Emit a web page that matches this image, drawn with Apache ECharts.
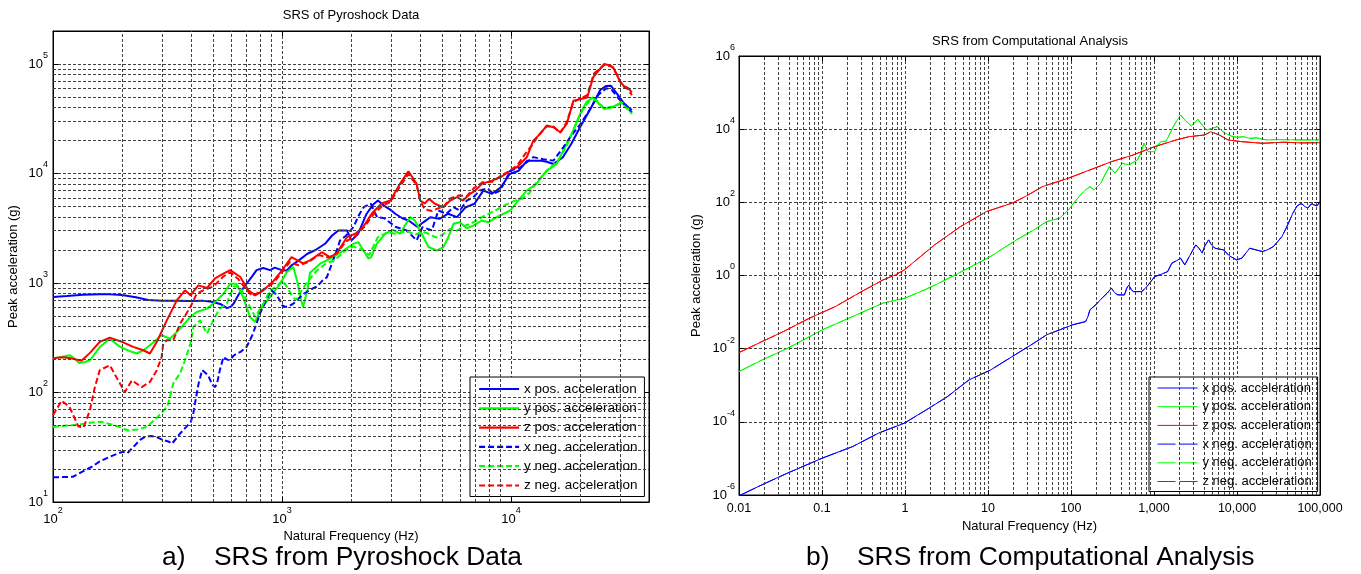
<!DOCTYPE html>
<html>
<head>
<meta charset="utf-8">
<script src="https://cdn.jsdelivr.net/npm/echarts@6/dist/echarts.min.js"></script>
<style>
  html, body { margin: 0; padding: 0; background: #fff; }
  #chart { width: 1361px; height: 574px; }
</style>
</head>
<body>
<div id="chart"></div>
<script>
// ---------- Panel a: SRS of pyroshock data, [frequency Hz, peak acceleration g] ----------
const pyroXPos = [[100,745],[115,760],[135,780],[160,790],[177,787],[200,775],[230,740],[260,700],[300,690],[350,690],[400,685],[450,690],[500,670],[540,640],[575,590],[600,610],[615,650],[650,800],[700,984],[740,1150],[774,1310],[829,1370],[886,1310],[930,1380],[997,1310],[1050,1300],[1100,1450],[1180,1600],[1290,1850],[1400,2000],[1540,2280],[1650,2700],[1760,3020],[1920,3020],[2010,2450],[2150,2820],[2340,4290],[2500,5200],[2620,5660],[2750,5200],[2850,4920],[3000,4600],[3120,4290],[3350,3900],[3570,3720],[3900,3240],[4150,3600],[4450,3990],[4870,3850],[5310,4290],[5800,3990],[6340,4920],[6920,5290],[7560,6980],[8260,6520],[9040,7500],[9860,9900],[10800,10600],[11750,13100],[13400,13100],[14300,12800],[15300,12200],[16800,14000],[18300,18600],[20000,26400],[22400,40200],[24500,57800],[26000,63000],[27300,63200],[29800,49500],[31000,44000],[32500,40200],[33700,38000]];
const pyroYPos = [[100,204],[110,212],[118,219],[124,205],[130,186],[138,190],[145,197],[160,260],[177,310],[196,261],[215,240],[232,227],[248,243],[265,270],[298,333],[324,310],[359,383],[398,489],[424,543],[470,583],[501,648],[555,798],[593,984],[632,984],[676,743],[725,489],[763,441],[817,603],[886,743],[980,984],[1050,1260],[1120,1400],[1170,1000],[1210,700],[1236,603],[1290,857],[1325,1240],[1466,1500],[1675,1720],[1853,1980],[2050,2280],[2150,2360],[2270,1980],[2380,1670],[2450,1720],[2590,2280],[2820,2820],[3060,3050],[3270,2820],[3620,3990],[3800,3720],[4070,2820],[4360,2130],[4740,1980],[5060,2130],[5320,2620],[5600,3470],[5980,3590],[6400,3160],[6840,3340],[7450,3720],[7960,3590],[8660,3990],[9910,4590],[10900,5860],[11700,6980],[12900,8030],[14300,10600],[15800,12200],[16900,16200],[18400,23000],[20000,34900],[21300,44800],[22800,49500],[24000,44000],[25500,38800],[27500,40000],[30400,44800],[32000,40000],[33700,36100]];
const pyroZPos = [[100,205],[110,210],[120,205],[133,195],[145,230],[160,290],[177,317],[200,290],[224,261],[248,243],[265,227],[284,290],[314,456],[347,694],[377,857],[398,771],[431,951],[470,900],[510,1100],[555,1220],[593,1310],[656,1140],[713,857],[763,771],[829,857],[916,1040],[998,1300],[1100,1720],[1235,1510],[1325,1610],[1490,1910],[1620,1720],[1730,1860],[1920,2620],[2090,2820],[2260,3240],[2460,4290],[2720,5320],[2970,5660],[3270,8030],[3560,10470],[3870,8030],[4010,5660],[4200,5320],[4380,5860],[4650,5290],[5050,4920],[5420,5660],[5800,6070],[6170,5660],[6620,6520],[6970,6980],[7450,8030],[8240,8610],[8960,9230],[9700,10260],[10600,11400],[11700,14060],[12500,19950],[13400,23000],[14300,27400],[15300,26400],[16400,23800],[17500,28300],[18700,46200],[21500,49500],[22800,75300],[25500,100000],[27000,97000],[27900,93300],[29800,70300],[31000,63000],[32500,60000],[33700,55000]];
const pyroXNeg = [[100,16.8],[110,16.9],[122,17],[135,19],[148,21],[160,23.5],[177,25.9],[190,27.5],[202,28.8],[211,27.8],[225,32],[240,37],[252,39.4],[268,40],[282,39.4],[300,37],[321,35.5],[330,34],[345,38],[359,42.3],[380,48],[400,54],[410,65],[419,85],[432,120],[448,160],[465,150],[479,139],[495,118],[509,112],[520,120],[535,160],[555,211],[575,200],[593,197],[612,215],[632,227],[660,235],[700,261],[740,330],[774,426],[805,540],[840,648],[870,760],[900,857],[940,790],[981,690],[1000,629],[1035,603],[1080,620],[1120,648],[1180,720],[1250,800],[1330,870],[1420,927],[1500,1050],[1570,1130],[1670,1610],[1750,2100],[1790,2440],[1900,2700],[2050,3240],[2170,4200],[2270,4920],[2440,5290],[2600,3990],[2800,3900],[3140,3240],[3500,3020],[3870,2450],[4100,3240],[4510,3020],[4810,4590],[5220,4290],[5600,4920],[5980,4590],[6400,5660],[6840,6070],[7300,7000],[7900,7300],[8380,6520],[8960,6980],[9910,10600],[11000,11400],[12500,14100],[13800,13500],[15300,13100],[16900,17300],[18100,21400],[20000,28000],[22000,38000],[24000,52000],[26000,60000],[27500,58000],[29800,47000],[31500,42000],[33700,36000]];
const pyroYNeg = [[100,48.5],[115,50],[130,51],[145,53],[162,54],[180,51],[194,48.5],[212,45],[235,46],[257,48.5],[287,60],[315,74],[324,91],[335,121],[359,150],[377,197],[398,280],[410,396],[438,456],[470,345],[501,456],[534,583],[574,648],[614,927],[656,927],[700,694],[763,489],[829,648],[886,857],[950,930],[1000,1050],[1060,900],[1110,750],[1150,700],[1200,820],[1280,1000],[1350,1150],[1420,1300],[1550,1500],[1700,1620],[1900,2000],[2050,2150],[2250,2000],[2400,1800],[2620,2620],[2900,2900],[3200,2800],[3500,3000],[3800,2750],[4100,2950],[4400,2800],[4700,2600],[5000,2750],[5400,3100],[5800,3000],[6200,3300],[6700,3500],[7300,3900],[8000,4300],[8700,4700],[9500,5200],[10300,5600],[11200,5900],[12000,6600],[13000,8500],[14500,10800],[16000,13000],[17500,18000],[19000,27000],[20500,38000],[22000,46000],[23500,47000],[25500,39500],[28000,41000],[30500,43500],[33700,35000]];
const pyroZNeg = [[100,62],[109,84],[118,74],[129,49],[136,48],[145,69],[152,110],[160,160],[177,177],[196,121],[206,101],[221,129],[244,112],[265,125],[284,160],[298,211],[303,280],[314,300],[335,300],[359,426],[398,603],[424,798],[453,857],[501,927],[555,1150],[593,1250],[640,1100],[690,900],[740,760],[790,820],[850,900],[916,1000],[998,1250],[1080,1550],[1180,1450],[1300,1550],[1450,1800],[1600,1700],[1750,1900],[1900,2400],[2100,2700],[2300,3300],[2500,4200],[2750,5100],[2970,5500],[3270,7600],[3560,9900],[3870,7800],[4010,5600],[4200,4700],[4520,4550],[4800,4800],[5100,5000],[5400,5900],[5900,6300],[6400,6200],[6900,7400],[7500,8300],[8300,8400],[9000,9500],[9800,10500],[10600,11800],[11500,15000],[12300,18000],[13200,22500],[14300,27000],[15300,26800],[16400,23500],[17500,29500],[18700,45000],[21500,52000],[23000,82000],[25500,98000],[27500,95000],[29000,80000],[30500,63000],[32000,60000],[33700,52000]];

// ---------- Panel b: SRS from computational analysis ----------
const compXPos = [[0.01,9.5e-7],[0.0189,1.9e-6],[0.0387,4e-6],[0.101,1.02e-5],[0.233,2.1e-5],[0.479,4.9e-5],[0.98,9.2e-5],[1.79,2.1e-4],[3.25,4.9e-4],[5.9,1.4e-3],[10.7,2.6e-3],[19.6,6.1e-3],[35.6,0.0141],[51,0.024],[73,0.0327],[104,0.0448],[150,0.055],[160,0.075],[169,0.115],[200,0.16],[240,0.25],[273,0.328],[307,0.45],[335,0.34],[367,0.295],[440,0.295],[470,0.45],[497,0.553],[530,0.42],[560,0.363],[711,0.363],[790,0.45],[851,0.553],[1020,0.93],[1250,1.1],[1460,1.28],[1640,2.17],[1850,2.5],[2090,2.97],[2350,1.95],[2700,3.5],[3180,6.86],[3500,5.5],[3800,4.07],[4100,6.5],[4550,9.4],[5000,6.5],[5450,5.57],[6920,5.0],[8000,3.5],[9900,2.67],[11500,3.0],[14200,5.57],[17000,5.0],[20300,4.5],[24000,5.2],[27400,6.17],[31000,8.5],[34800,11.6],[40000,22],[47000,50],[53000,80],[59700,94],[65000,78],[71400,69],[78000,90],[85500,85],[92000,80],[100000,105]];
const compYPos = [[0.01,0.00237],[0.0189,0.0049],[0.0387,0.0103],[0.101,0.0327],[0.233,0.0754],[0.54,0.175],[1.0,0.24],[1.79,0.42],[2.56,0.617],[3.9,1.0],[5.25,1.42],[10.7,3.3],[22,9.4],[35.6,17.6],[51,29.8],[73,36.7],[93,62],[111,104],[141,195],[169,269],[190,219],[228,331],[260,600],[290,946],[339,624],[415,1170],[497,1050],[631,1440],[700,2300],[755,4110],[851,2430],[1020,2430],[1100,3600],[1220,4570],[1400,4700],[1750,13000],[2090,24400],[2400,17000],[2820,12200],[3370,18600],[3800,13000],[4290,9500],[5000,10500],[5780,11700],[7000,8000],[8500,6500],[9900,6000],[12000,6200],[14200,5620],[17000,5800],[22900,5070],[30000,5200],[50000,5100],[100000,5070]];
const compZPos = [[0.01,0.0078],[0.0189,0.0156],[0.0344,0.0295],[0.0705,0.068],[0.1445,0.141],[0.297,0.36],[0.54,0.75],[0.77,1.05],[0.98,1.42],[2.27,6.86],[4.66,21.7],[9.55,55.7],[19.6,95.5],[28,143],[45.3,269],[93,457],[190,851],[307,1290],[560,1970],[1020,3330],[1850,5070],[2650,6240],[4040,6920],[4830,8510],[6140,6920],[7800,5070],[11200,4570],[20300,4110],[37000,4400],[60000,4200],[100000,4270]];
// The negative-direction spectra of the linear model coincide with the positive ones.
const compXNeg = compXPos;
const compYNeg = compYPos;
const compZNeg = compZPos;

const seriesNames = ['x pos. acceleration', 'y pos. acceleration', 'z pos. acceleration',
                     'x neg. acceleration', 'y neg. acceleration', 'z neg. acceleration'];

// Minor grid positions (2..9 x 10^k)
const pyroFreqMinor = [200,300,400,500,600,700,800,900,2000,3000,4000,5000,6000,7000,8000,9000,20000,30000];
const pyroAccMinor = [20,30,40,50,60,70,80,90,200,300,400,500,600,700,800,900,2000,3000,4000,5000,6000,7000,8000,9000,20000,30000,40000,50000,60000,70000,80000,90000];
const compFreqMinor = [0.02,0.03,0.04,0.05,0.06,0.07,0.08,0.09,0.2,0.3,0.4,0.5,0.6,0.7,0.8,0.9,2,3,4,5,6,7,8,9,20,30,40,50,60,70,80,90,200,300,400,500,600,700,800,900,2000,3000,4000,5000,6000,7000,8000,9000,20000,30000,40000,50000,60000,70000,80000,90000];

const FONT = '"Liberation Sans", Arial, sans-serif';
const BLUE = '#0000ff', GREEN = '#00ff00', RED = '#ff0000';
const GRID_LINE = { type: [3, 2], color: '#404040', width: 1 };

function powLabel(v) {
  const e = Math.log10(v), r = Math.round(e);
  if (Math.abs(e - r) > 1e-6) return '';
  return '{b|10}{e|' + r + '}';
}
function decLabel(v) {
  const e = Math.log10(v), r = Math.round(e);
  if (Math.abs(e - r) > 1e-6) return '';
  if (r < 0) return Math.pow(10, r).toFixed(-r);
  return String(Math.pow(10, r)).replace(/\B(?=(\d{3})+(?!\d))/g, ',');
}
// "10" centred on the tick, exponent raised above it
const powRich = {
  b: { fontSize: 13, lineHeight: 26, verticalAlign: 'middle', fontFamily: FONT, color: '#000' },
  e: { fontSize: 9, lineHeight: 9, verticalAlign: 'top', fontFamily: FONT, color: '#000' }
};

function curve(name, data, color, dash, width, gi) {
  return {
    type: 'line', name: name, data: data, xAxisIndex: gi, yAxisIndex: gi,
    symbol: 'none', showSymbol: false, animation: false, z: 3,
    lineStyle: { color: color, width: width, type: dash },
    itemStyle: { color: color }
  };
}
function gridLines(gi, xs, ys) {
  const data = xs.map(v => ({ xAxis: v })).concat(ys.map(v => ({ yAxis: v })));
  return {
    type: 'line', data: [], xAxisIndex: gi, yAxisIndex: gi, silent: true, z: 1,
    markLine: { silent: true, symbol: ['none', 'none'], animation: false,
      label: { show: false }, lineStyle: GRID_LINE, data: data }
  };
}
function axisCommon() {
  return {
    type: 'log', logBase: 10,
    axisLine: { show: true, lineStyle: { color: '#000', width: 1 } },
    axisTick: { show: true, inside: true, length: 5, lineStyle: { color: '#000' } },
    splitLine: { show: true, lineStyle: GRID_LINE },
    nameLocation: 'middle',
    nameTextStyle: { fontSize: 13, fontFamily: FONT, color: '#000' }
  };
}
// Mirror axis on the opposite side of the box: ticks only
function mirrorAxis(gi, pos, min, max, base) {
  return {
    type: 'log', logBase: base, gridIndex: gi, position: pos, min: min, max: max,
    axisLine: { show: true, lineStyle: { color: '#000', width: 1 } },
    axisTick: { show: true, inside: true, length: 5, lineStyle: { color: '#000' } },
    axisLabel: { show: false }, splitLine: { show: false }
  };
}
function legendItems(width, dash) {
  const colors = [BLUE, GREEN, RED, BLUE, GREEN, RED];
  return seriesNames.map((n, i) => ({
    name: n,
    itemStyle: { opacity: 0 },
    lineStyle: { color: colors[i], width: width, type: i < 3 ? 'solid' : dash }
  }));
}

const chart = echarts.init(document.getElementById('chart'), null, { renderer: 'canvas' });

const PSHORT = [6, 3];
const LDASH = [18, 4];

chart.setOption({
  backgroundColor: '#fff',
  animation: false,
  grid: [
    { left: 53, top: 31, width: 596, height: 471, show: true, borderColor: '#000', borderWidth: 1,
      backgroundColor: '#fff', containLabel: false, outerBoundsMode: 'none' },
    { left: 739, top: 56, width: 581, height: 439, show: true, borderColor: '#000', borderWidth: 1,
      backgroundColor: '#fff', containLabel: false, outerBoundsMode: 'none' }
  ],
  xAxis: [
    Object.assign(axisCommon(), {
      gridIndex: 0, min: 100, max: 40000, name: 'Natural Frequency (Hz)', nameGap: 27,
      axisLabel: { formatter: powLabel, rich: powRich, margin: 4, showMaxLabel: false }
    }),
    Object.assign(axisCommon(), {
      gridIndex: 1, min: 0.01, max: 100000, name: 'Natural Frequency (Hz)', nameGap: 24,
      axisLabel: { formatter: decLabel, margin: 7, fontSize: 12.5, fontFamily: FONT, color: '#000' }
    }),
    mirrorAxis(0, 'top', 100, 40000, 10),
    mirrorAxis(1, 'top', 0.01, 100000, 10)
  ],
  yAxis: [
    Object.assign(axisCommon(), {
      gridIndex: 0, min: 10, max: 200000, name: 'Peak acceleration (g)', nameGap: 33,
      axisLabel: { formatter: powLabel, rich: powRich, margin: 5, showMaxLabel: false }
    }),
    Object.assign(axisCommon(), {
      gridIndex: 1, min: 1e-6, max: 1e6, logBase: 100, name: 'Peak acceleration (g)', nameGap: 36,
      axisLabel: { formatter: powLabel, rich: powRich, margin: 4 }
    }),
    mirrorAxis(0, 'right', 10, 200000, 10),
    mirrorAxis(1, 'right', 1e-6, 1e6, 100)
  ],
  legend: [
    {
      orient: 'vertical', left: 470, top: 377, selectedMode: false,
      padding: [5, 7, 4, 8], itemGap: 5.3, itemWidth: 40, itemHeight: 14,
      backgroundColor: '#fff', borderColor: '#000', borderWidth: 1, borderRadius: 0,
      itemStyle: { opacity: 0 },
      textStyle: { fontSize: 13.5, fontFamily: FONT, color: '#000', lineHeight: 14 },
      data: legendItems(2.2, PSHORT)
    },
    {
      orient: 'vertical', left: 1149, top: 377, selectedMode: false,
      padding: [4, 6, 3, 8], itemGap: 4.7, itemWidth: 40, itemHeight: 14,
      backgroundColor: '#fff', borderColor: '#000', borderWidth: 1, borderRadius: 0,
      itemStyle: { opacity: 0 },
      textStyle: { fontSize: 13, fontFamily: FONT, color: '#000', lineHeight: 14 },
      data: legendItems(1, LDASH)
    }
  ],
  series: [
    gridLines(0, pyroFreqMinor, pyroAccMinor),
    gridLines(1, compFreqMinor, []),
    curve(seriesNames[0], pyroXPos, BLUE, 'solid', 2, 0),
    curve(seriesNames[1], pyroYPos, GREEN, 'solid', 2, 0),
    curve(seriesNames[2], pyroZPos, RED, 'solid', 2, 0),
    curve(seriesNames[3], pyroXNeg, BLUE, PSHORT, 2, 0),
    curve(seriesNames[4], pyroYNeg, GREEN, PSHORT, 2, 0),
    curve(seriesNames[5], pyroZNeg, RED, PSHORT, 2, 0),
    curve(seriesNames[0], compXPos, BLUE, 'solid', 1, 1),
    curve(seriesNames[1], compYPos, GREEN, 'solid', 1, 1),
    curve(seriesNames[2], compZPos, RED, 'solid', 1, 1),
    curve(seriesNames[3], compXNeg, BLUE, LDASH, 1, 1),
    curve(seriesNames[4], compYNeg, GREEN, LDASH, 1, 1),
    curve(seriesNames[5], compZNeg, RED, LDASH, 1, 1)
  ],
  graphic: [
    { type: 'text', x: 351, y: 15.5, silent: true,
      style: { text: 'SRS of Pyroshock Data', fontSize: 13, fontFamily: FONT, fill: '#000', align: 'center', verticalAlign: 'middle' } },
    { type: 'text', x: 1030, y: 41.5, silent: true,
      style: { text: 'SRS from Computational Analysis', fontSize: 13, fontFamily: FONT, fill: '#000', align: 'center', verticalAlign: 'middle' } },
    { type: 'text', x: 162, y: 558, silent: true,
      style: { text: 'a)', fontSize: 26.4, fontFamily: FONT, fill: '#000', align: 'left', verticalAlign: 'middle' } },
    { type: 'text', x: 214, y: 558, silent: true,
      style: { text: 'SRS from Pyroshock Data', fontSize: 26.4, fontFamily: FONT, fill: '#000', align: 'left', verticalAlign: 'middle' } },
    { type: 'text', x: 806, y: 558, silent: true,
      style: { text: 'b)', fontSize: 26.4, fontFamily: FONT, fill: '#000', align: 'left', verticalAlign: 'middle' } },
    { type: 'text', x: 857, y: 558, silent: true,
      style: { text: 'SRS from Computational Analysis', fontSize: 26.4, fontFamily: FONT, fill: '#000', align: 'left', verticalAlign: 'middle' } }
  ]
});
</script>
</body>
</html>
